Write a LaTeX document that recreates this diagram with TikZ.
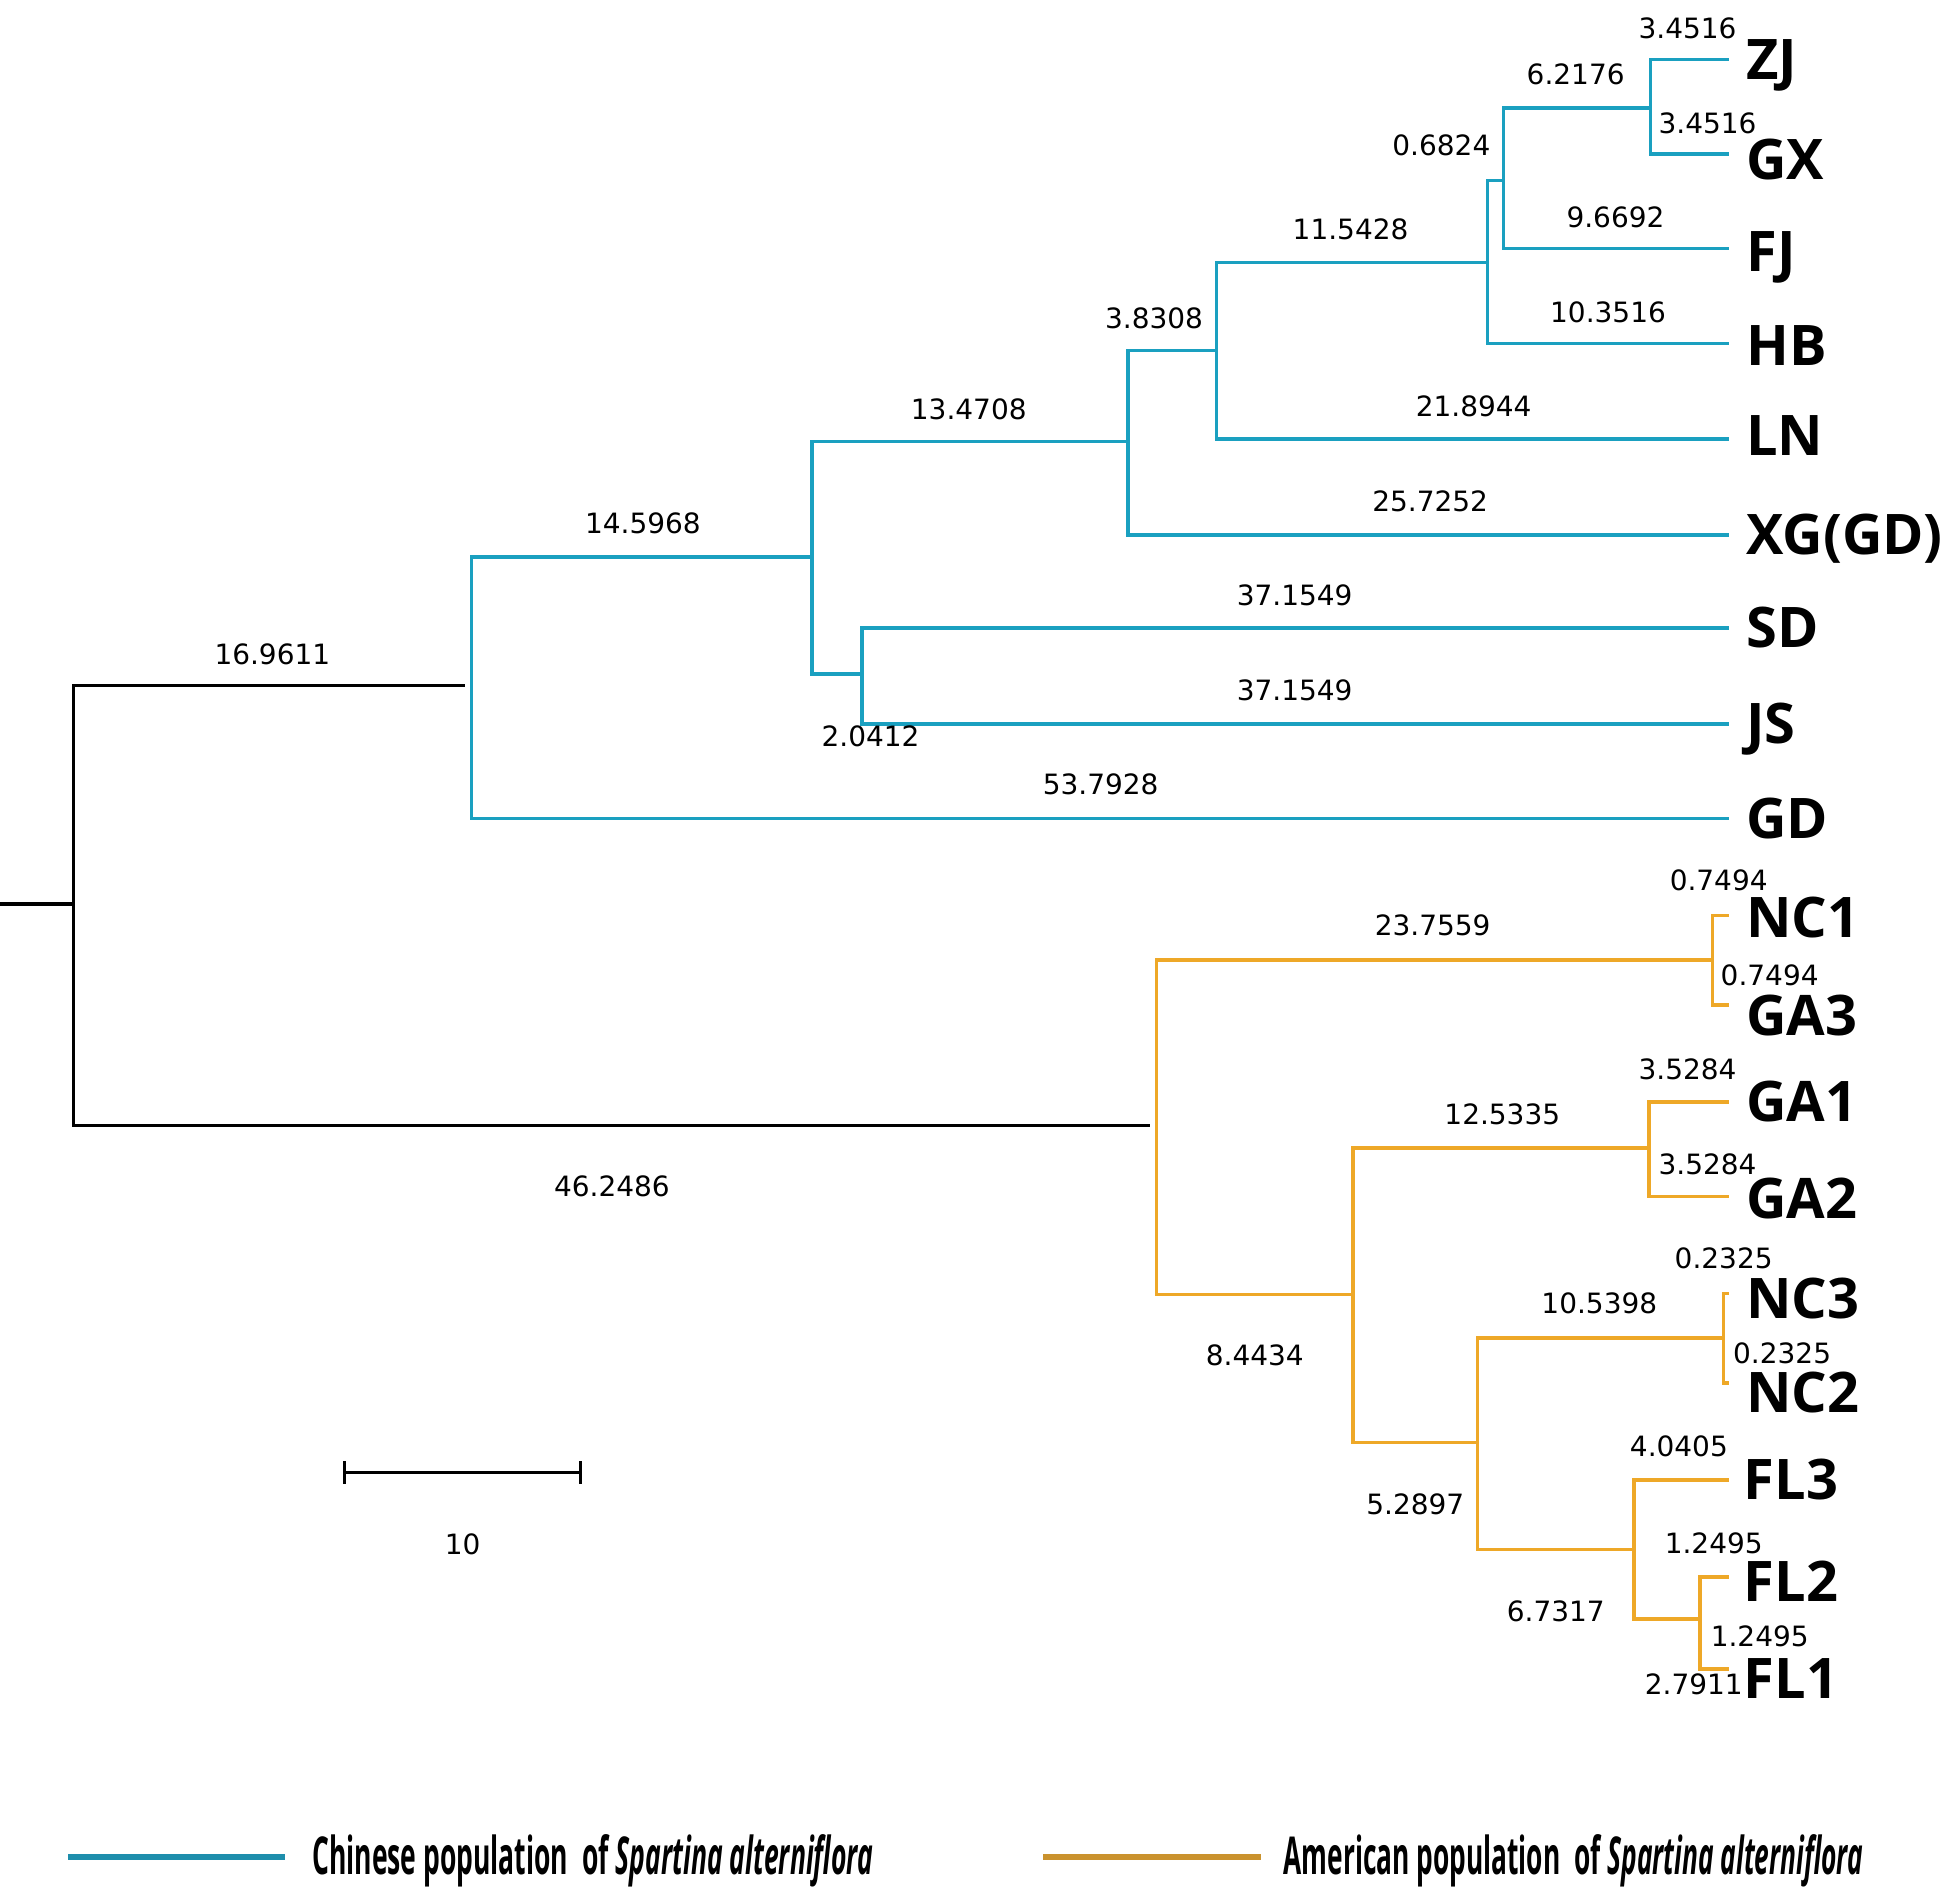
\documentclass[tikz,border=0pt]{standalone}
\usepackage{fontspec}
\setmainfont{DejaVu Sans}
\newfontfamily\labfont{Open Sans}
\newfontfamily\numfont{DejaVu Sans}
\definecolor{cn}{RGB}{26,160,192}
\definecolor{us}{RGB}{238,168,40}
\definecolor{cnleg}{RGB}{30,142,172}
\definecolor{usleg}{RGB}{202,146,46}
\begin{document}
\begin{tikzpicture}[x=1pt,y=-1pt,
  br/.style={line width=2.8pt},
  cnb/.style={br,draw=cn},
  usb/.style={br,draw=us},
  blk/.style={br,draw=black},
  num/.style={font=\numfont\fontsize{22.5}{22.5}\selectfont,inner sep=0pt,anchor=center},
  leaf/.style={font=\labfont\bfseries\fontsize{45}{45}\selectfont,inner sep=0pt,anchor=base west},
  legtxt/.style={font=\labfont\bfseries\fontsize{42}{42}\selectfont,inner sep=0pt,anchor=base west}]
\useasboundingbox (0,0) rectangle (1568,1531);
\fill[white] (0,0) rectangle (1568,1531);
% ---- internal nodes (x of vertical, y of attachment)
\coordinate (L) at (0,727);
\coordinate (R) at (59,727);
\coordinate (C1) at (379,551);
\coordinate (C2) at (653,448);
\coordinate (C3) at (907,355);
\coordinate (C4) at (978,282);
\coordinate (C5) at (1196,211);
\coordinate (C6) at (1209,145);
\coordinate (C7) at (1327,87);
\coordinate (C8) at (693,542);
\coordinate (A1) at (930,905);
\coordinate (A2) at (1377,772);
\coordinate (A3) at (1088,1041);
\coordinate (A4) at (1326,923);
\coordinate (A5) at (1188,1160);
\coordinate (A6) at (1386,1076);
\coordinate (A7) at (1314,1246);
\coordinate (A8) at (1367,1302);
% ---- leaf ends
\coordinate (zj) at (1390,48);
\coordinate (gx) at (1390,124);
\coordinate (fj) at (1390,200);
\coordinate (hb) at (1390,276);
\coordinate (ln) at (1390,353);
\coordinate (xg) at (1390,430);
\coordinate (sd) at (1390,505);
\coordinate (js) at (1390,582);
\coordinate (gd) at (1390,658);
\coordinate (nc1) at (1390,736);
\coordinate (ga3) at (1390,808);
\coordinate (ga1) at (1390,886);
\coordinate (ga2) at (1390,962);
\coordinate (nc3) at (1390,1040);
\coordinate (nc2) at (1390,1112);
\coordinate (fl3) at (1390,1190);
\coordinate (fl2) at (1390,1268);
\coordinate (fl1) at (1390,1342);
% ---- black root
\draw[blk] (L) -- (R);
\draw[blk,shorten >=5pt] (R) |- (C1);
\draw[blk,shorten >=5pt] (R) |- (A1);
% ---- Chinese clade
\draw[cnb] (C1) |- (C2);
\draw[cnb] (C1) |- (gd);
\draw[cnb] (C2) |- (C3);
\draw[cnb] (C2) |- (C8);
\draw[cnb] (C8) |- (sd);
\draw[cnb] (C8) |- (js);
\draw[cnb] (C3) |- (C4);
\draw[cnb] (C3) |- (xg);
\draw[cnb] (C4) |- (C5);
\draw[cnb] (C4) |- (ln);
\draw[cnb] (C5) |- (C6);
\draw[cnb] (C5) |- (hb);
\draw[cnb] (C6) |- (C7);
\draw[cnb] (C6) |- (fj);
\draw[cnb] (C7) |- (zj);
\draw[cnb] (C7) |- (gx);
% ---- American clade
\draw[usb] (A1) |- (A2);
\draw[usb] (A1) |- (A3);
\draw[usb] (A2) |- (nc1);
\draw[usb] (A2) |- (ga3);
\draw[usb] (A3) |- (A4);
\draw[usb] (A3) |- (A5);
\draw[usb] (A4) |- (ga1);
\draw[usb] (A4) |- (ga2);
\draw[usb] (A5) |- (A6);
\draw[usb] (A5) |- (A7);
\draw[usb] (A6) |- (nc3);
\draw[usb] (A6) |- (nc2);
\draw[usb] (A7) |- (fl3);
\draw[usb] (A7) |- (A8);
\draw[usb] (A8) |- (fl2);
\draw[usb] (A8) |- (fl1);
% ---- leaf labels
\node[leaf] (tZJ) at (1404,64) {ZJ};
\node[leaf] (tGX) at (1404,144) {GX};
\node[leaf] (tFJ) at (1404,218) {FJ};
\node[leaf] (tHB) at (1404,294) {HB};
\node[leaf] (tLN) at (1404,366) {LN};
\node[leaf] (tXG) at (1404,446) {XG(GD)};
\node[leaf] (tSD) at (1404,521) {SD};
\node[leaf] (tJS) at (1404,598) {JS};
\node[leaf] (tGD) at (1404,674) {GD};
\node[leaf] (tNC1) at (1404,754) {NC1};
\node[leaf] (tGA3) at (1404,833) {GA3};
\node[leaf] (tGA1) at (1404,902) {GA1};
\node[leaf] (tGA2) at (1404,980) {GA2};
\node[leaf] (tNC3) at (1404,1060) {NC3};
\node[leaf] (tNC2) at (1404,1136) {NC2};
\node[leaf] (tFL3) at (1402,1206) {FL3};
\node[leaf] (tFL2) at (1402,1288) {FL2};
\node[leaf] (tFL1) at (1402,1366) {FL1};
% ---- branch lengths
\node[num] (b1) at (219,526) {16.9611};
\node[num] (b2) at (517,421) {14.5968};
\node[num] (b3) at (779,329) {13.4708};
\node[num] (b4) at (928,256) {3.8308};
\node[num] (b5) at (1086,184) {11.5428};
\node[num] (b6) at (1159,117) {0.6824};
\node[num] (b7) at (1267,60) {6.2176};
\node[num] (b8) at (1357,23) {3.4516};
\node[num] (b9) at (1373,99) {3.4516};
\node[num] (b10) at (1299,175) {9.6692};
\node[num] (b11) at (1293,251) {10.3516};
\node[num] (b12) at (1185,327) {21.8944};
\node[num] (b13) at (1150,403) {25.7252};
\node[num] (b14) at (1041,479) {37.1549};
\node[num] (b15) at (1041,555) {37.1549};
\node[num] (b16) at (700,592) {2.0412};
\node[num] (b17) at (885,631) {53.7928};
\node[num] (b18) at (492,954) {46.2486};
\node[num] (b19) at (1152,744) {23.7559};
\node[num] (b20) at (1382,708) {0.7494};
\node[num] (b21) at (1423,784) {0.7494};
\node[num] (b22) at (1208,896) {12.5335};
\node[num] (b23) at (1357,860) {3.5284};
\node[num] (b24) at (1373,936) {3.5284};
\node[num] (b25) at (1009,1090) {8.4434};
\node[num] (b26) at (1286,1048) {10.5398};
\node[num] (b27) at (1386,1012) {0.2325};
\node[num] (b28) at (1433,1088) {0.2325};
\node[num] (b29) at (1138,1210) {5.2897};
\node[num] (b30) at (1350,1163) {4.0405};
\node[num] (b31) at (1251,1296) {6.7317};
\node[num] (b32) at (1378,1241) {1.2495};
\node[num] (b33) at (1415,1316) {1.2495};
\node[num] (b34) at (1362,1354) {2.7911};
% ---- scale bar
\coordinate (s1) at (277,1184);
\coordinate (s2) at (467,1184);
\draw[line width=2.2pt] (s1) -- (s2);
\draw[line width=2.6pt] ([yshift=-9pt]s1) -- ([yshift=9pt]s1);
\draw[line width=2.6pt] ([yshift=-9pt]s2) -- ([yshift=9pt]s2);
\node[num] (sc) at (372,1242) {10};
% ---- legend
\coordinate (lc1) at (55,1493);
\coordinate (lc2) at (229,1493);
\coordinate (lu1) at (839,1493);
\coordinate (lu2) at (1014,1493);
\draw[line width=4.5pt,cnleg] (lc1) -- (lc2);
\draw[line width=4.5pt,usleg] (lu1) -- (lu2);
\node[legtxt] (legc) at (251,1507) {\resizebox{451pt}{\height}{Chinese population\ \ of \textit{Spartina alterniflora}}};
\node[legtxt] (legu) at (1032,1507) {\resizebox{466pt}{\height}{American population\ \ of \textit{Spartina alterniflora}}};
\end{tikzpicture}
\end{document}
